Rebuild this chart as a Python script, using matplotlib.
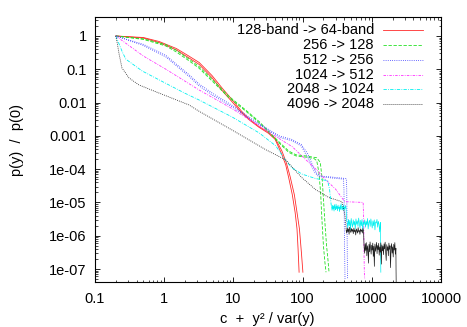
import numpy as np
import matplotlib
matplotlib.use("Agg")
from matplotlib import pyplot as plt
from matplotlib.lines import Line2D

plt.rcParams['font.family'] = ['Liberation Sans', 'DejaVu Sans']
plt.rcParams['font.size'] = 10.5

#### DATA
labels = ['128-band -> 64-band', '256 -> 128', '512 -> 256',
          '1024 -> 512', '2048 -> 1024', '4096 -> 2048']

red_x1 = [0.2, 0.5, 0.85, 1.5, 2.2, 3.2, 4.9, 7, 10, 13, 17, 23.5, 32, 40, 50, 57, 63, 71, 78, 83, 86, 89]
red_y1 = [1.0, 0.87, 0.63, 0.38, 0.23, 0.14, 0.056, 0.022, 0.0095, 0.005, 0.003, 0.0018, 0.0012,
          7.9e-4, 2.8e-4, 1.35e-4, 5.5e-5, 1.7e-5, 5e-6, 1.6e-6, 4e-7, 8e-8]
red_x2 = [0.2, 0.5, 0.85, 1.5, 2.2, 3.2, 4.9, 7, 10, 13, 17, 23.5, 32, 40, 50, 58, 66, 76, 83, 90, 96, 101]
red_y2 = [1.0, 0.9, 0.68, 0.42, 0.26, 0.16, 0.065, 0.026, 0.011, 0.0056, 0.0032, 0.0019, 0.0013,
          8.5e-4, 3.6e-4, 1.6e-4, 6e-5, 1.7e-5, 5e-6, 1.6e-6, 3.2e-7, 8e-8]

green_x1 = [0.2, 0.5, 1.06, 1.5, 2.3, 3.2, 4.9, 8.6, 15, 23.5, 32, 45, 63, 80, 110, 145, 160, 172,
            182, 190, 200, 210, 218]
green_y1 = [1.0, 0.79, 0.5, 0.33, 0.178, 0.107, 0.045, 0.0141, 0.0056, 0.0025, 0.00132, 6.3e-4,
            3.2e-4, 2.5e-4, 2.3e-4, 2.1e-4, 1.8e-4, 7.9e-5, 2e-5, 3.2e-6, 5e-7, 1.6e-7, 8e-8]
green_x2 = [0.2, 0.5, 1.06, 1.5, 2.3, 3.2, 4.9, 8.6, 15, 23.5, 32, 45, 63, 80, 110, 160, 180, 192,
            200, 210, 222, 232, 241]
green_y2 = [1.0, 0.82, 0.55, 0.37, 0.2, 0.12, 0.05, 0.0155, 0.006, 0.0027, 0.0014, 6.8e-4, 3.5e-4,
            2.7e-4, 2.5e-4, 2.2e-4, 1.6e-4, 5e-5, 1.3e-5, 2.5e-6, 5e-7, 2e-7, 8e-8]

blue_x1 = [0.2, 0.5, 1.06, 2.3, 3.2, 5, 9.6, 17, 30, 46, 70, 95, 115, 132, 150, 170, 250, 390,
           396, 400, 405, 410]
blue_y1 = [1.0, 0.52, 0.234, 0.06, 0.0316, 0.0166, 0.0074, 0.0033, 0.0016, 9.1e-4, 7.1e-4, 5e-4,
           2.5e-4, 1.35e-4, 7.9e-5, 6e-5, 5.5e-5, 5e-5, 2.5e-5, 3.2e-6, 3.2e-7, 5e-8]
blue_x2 = [0.2, 0.5, 1.06, 2.3, 3.2, 5, 9.6, 17, 30, 46, 70, 95, 120, 140, 160, 180, 260, 428,
           434, 438, 442, 446]
blue_y2 = [1.0, 0.56, 0.26, 0.068, 0.036, 0.019, 0.0082, 0.0036, 0.0017, 0.001, 7.8e-4, 5.6e-4,
           2.8e-4, 1.3e-4, 7.5e-5, 6.2e-5, 5.8e-5, 5.2e-5, 2.5e-5, 3.2e-6, 3.2e-7, 5e-8]

mag_x = [0.2, 0.5, 1.06, 3.18, 9.55, 29, 71, 112, 138, 165, 200, 300, 400, 420, 750, 765, 772, 780, 790]
mag_y = [1.0, 0.25, 0.1, 0.024, 0.0066, 0.0015, 4.7e-4, 1.9e-4, 1.26e-4, 8.9e-5, 5.6e-5, 2.5e-5,
         1.1e-5, 1.05e-5, 1.0e-5, 2.5e-6, 3.2e-7, 8e-8, 5e-8]

cyan_x = [0.2, 0.25, 0.28, 0.48, 1.0, 2.0, 3.18, 9.55, 23.5, 41, 57, 70, 98, 155, 230, 245, 258, 262]
cyan_y = [1.0, 0.32, 0.2, 0.089, 0.04, 0.019, 0.012, 0.0037, 0.00123, 5e-4, 1.8e-4, 1.1e-4,
          7.1e-5, 5.2e-5, 4.5e-5, 2.5e-5, 9e-6, 7.5e-6]
cyan_noise1 = [7.5e-6, 5.8e-6, 8.2e-6, 6.3e-6, 7.9e-6, 5.5e-6, 8.6e-6, 6.9e-6, 6.0e-6, 8.9e-6,
               6.4e-6, 7.7e-6, 5.6e-6, 8.3e-6, 6.6e-6, 7.2e-6, 5.3e-6, 8.0e-6, 6.2e-6, 9.2e-6,
               6.8e-6, 5.9e-6, 7.6e-6, 6.1e-6, 8.4e-6, 5.7e-6, 7.3e-6, 6.5e-6, 8.1e-6, 6.7e-6]
cyan_noise1_range = [262, 425]
cyan_noise2 = [2.6e-6, 1.7e-6, 3.1e-6, 2.0e-6, 2.9e-6, 1.5e-6, 3.3e-6, 2.3e-6, 1.8e-6, 3.0e-6,
               2.1e-6, 2.7e-6, 1.6e-6, 3.2e-6, 2.2e-6, 2.8e-6, 1.9e-6, 3.4e-6, 2.4e-6, 1.7e-6,
               2.9e-6, 2.0e-6, 3.1e-6, 1.4e-6, 2.6e-6, 2.2e-6, 3.0e-6, 1.8e-6, 2.7e-6, 2.1e-6,
               3.3e-6, 1.6e-6, 2.5e-6, 2.9e-6, 1.9e-6, 3.2e-6, 2.3e-6, 1.7e-6, 2.8e-6, 2.0e-6,
               3.0e-6, 1.5e-6, 2.6e-6, 2.4e-6, 3.1e-6, 1.8e-6, 2.7e-6, 2.2e-6, 1.3e-6, 2.5e-6]
cyan_noise2_range = [440, 1330]
cyan_end_x = [1330, 1340, 1350]
cyan_end_y = [2.0e-6, 3e-7, 8e-8]

black_x = [0.2, 0.21, 0.222, 0.245, 0.31, 0.43, 0.76, 1.06, 2.28, 3.18, 9.55, 29.6, 57, 75, 98,
           155, 240, 370, 410, 425]
black_y = [1.0, 0.6, 0.3, 0.11, 0.055, 0.034, 0.021, 0.016, 0.0085, 0.0055, 0.0015, 3.8e-4,
           1.9e-4, 1.0e-4, 5.5e-5, 2.4e-5, 1.4e-5, 1.05e-5, 4e-6, 1.6e-6]
black_noise1 = [1.5e-6, 1.2e-6, 1.7e-6, 1.3e-6, 1.6e-6, 1.1e-6, 1.8e-6, 1.4e-6, 1.25e-6, 1.65e-6,
                1.35e-6, 1.55e-6, 1.15e-6, 1.7e-6, 1.3e-6, 1.5e-6, 1.05e-6, 1.6e-6, 1.4e-6, 1.2e-6,
                1.75e-6, 1.3e-6, 1.45e-6, 1.1e-6, 1.6e-6, 1.35e-6, 1.5e-6, 1.2e-6, 1.65e-6, 1.4e-6]
black_noise1_range = [425, 760]
black_noise2 = [4.5e-7, 3.0e-7, 5.8e-7, 3.6e-7, 6.2e-7, 2.5e-7, 5.0e-7, 3.9e-7, 1.5e-7, 5.5e-7,
                3.3e-7, 6.5e-7, 4.1e-7, 2.8e-7, 5.2e-7, 3.7e-7, 6.0e-7, 2.4e-7, 4.8e-7, 1.2e-7,
                5.6e-7, 3.4e-7, 4.4e-7, 6.3e-7, 2.9e-7, 5.1e-7, 3.8e-7, 5.9e-7, 2.6e-7, 4.6e-7,
                3.2e-7, 6.1e-7, 1.4e-7, 5.3e-7, 3.5e-7, 4.9e-7, 2.7e-7, 5.7e-7, 4.0e-7, 6.4e-7,
                3.1e-7, 1.8e-7, 5.4e-7, 3.6e-7, 4.7e-7, 2.5e-7, 6.0e-7, 3.9e-7, 5.0e-7, 1.1e-7,
                4.3e-7, 5.8e-7, 3.0e-7, 4.6e-7, 2.3e-7, 5.5e-7, 3.7e-7, 6.2e-7, 2.8e-7, 4.2e-7]
black_noise2_range = [775, 2230]
black_end_x = [2230, 2240, 2250]
black_end_y = [4.2e-7, 1e-7, 4e-8]

xticks = [0.1, 1, 10, 100, 1000, 10000]
xticklabels = ['0.1', '1', '10', '100', '1000', '10000']
yticks = [1, 0.1, 0.01, 0.001, 1e-4, 1e-5, 1e-6, 1e-7]
yticklabels = ['1', '0.1', '0.01', '0.001', '1e-04', '1e-05', '1e-06', '1e-07']

#### noisy tails: hand read values spread over the plateau
def noisy(vals, rng):
    return np.geomspace(rng[0], rng[1], len(vals)), np.array(vals)

cx1, cy1 = noisy(cyan_noise1, cyan_noise1_range)
cx2, cy2 = noisy(cyan_noise2, cyan_noise2_range)
cyan_tail_x = np.concatenate([cx1, [430], cx2, cyan_end_x])
cyan_tail_y = np.concatenate([cy1, [3e-6], cy2, cyan_end_y])

bx1, by1 = noisy(black_noise1, black_noise1_range)
bx2, by2 = noisy(black_noise2, black_noise2_range)
black_tail_x = np.concatenate([bx1, [770], bx2, black_end_x])
black_tail_y = np.concatenate([by1, [6e-7], by2, black_end_y])

#### PLOT
fig = plt.figure(figsize=(4.67, 3.27), dpi=100)
ax = fig.add_axes([95/467, 1-282/327, 346/467, 265/327])

colors = ['#ff2a2a', '#22e022', '#3a3aff', '#ff30ff', '#00f0f0', '#202020']
styles = ['-', (0, (4, 2)), (0, (1, 1.6)), (0, (3, 1.5, 1, 1.5)), (0, (4, 1.5, 1, 1.5)), (0, (1, 1.4))]
lw = 0.6

ax.plot(red_x1, red_y1, color=colors[0], ls=styles[0], lw=lw)
ax.plot(red_x2, red_y2, color=colors[0], ls=styles[0], lw=lw)
ax.plot(green_x1, green_y1, color=colors[1], ls=styles[1], lw=lw)
ax.plot(green_x2, green_y2, color=colors[1], ls=styles[1], lw=lw)
ax.plot(blue_x1, blue_y1, color=colors[2], ls=styles[2], lw=lw)
ax.plot(blue_x2, blue_y2, color=colors[2], ls=styles[2], lw=lw)
ax.plot(mag_x, mag_y, color=colors[3], ls=styles[3], lw=lw)
ax.plot(cyan_x, cyan_y, color=colors[4], ls=styles[4], lw=lw)
ax.plot(cyan_tail_x, cyan_tail_y, color=colors[4], ls='-', lw=0.5)
ax.plot(black_x, black_y, color=colors[5], ls=styles[5], lw=lw)
ax.plot(black_tail_x, black_tail_y, color=colors[5], ls='-', lw=0.5)

ax.set_xscale('log')
ax.set_yscale('log')
ax.set_xlim(0.1, 10000)
ax.set_ylim(4.07e-8, 3.72)
ax.set_xticks(xticks, xticklabels)
ax.set_yticks(yticks, yticklabels)
ax.tick_params(which='both', direction='in', top=True, right=True)
ax.tick_params(which='major', length=3.5, width=0.6)
ax.tick_params(which='minor', length=1.8, width=0.5)
ax.tick_params(axis='x', pad=7)
ax.tick_params(axis='y', pad=6)
for s in ax.spines.values():
    s.set_linewidth(0.8)

#### legend (gnuplot style: text right aligned, sample on the right)
row_y = [0.951, 0.895, 0.839, 0.783, 0.727, 0.671]
for i in range(6):
    ax.text(0.806, row_y[i], labels[i], transform=ax.transAxes, ha='right', va='center')
    ax.add_line(Line2D([0.832, 0.948], [row_y[i], row_y[i]], transform=ax.transAxes,
                       color=colors[i], ls=styles[i], lw=lw))

fig.text(17/467, 1-140/327, 'p(y)  /  p(0)', rotation=90, ha='center', va='center')
fig.text(267/467, 1/327, 'c  +  y\u00b2 / var(y)', ha='center', va='bottom')

fig.savefig('out.png', dpi=100)
